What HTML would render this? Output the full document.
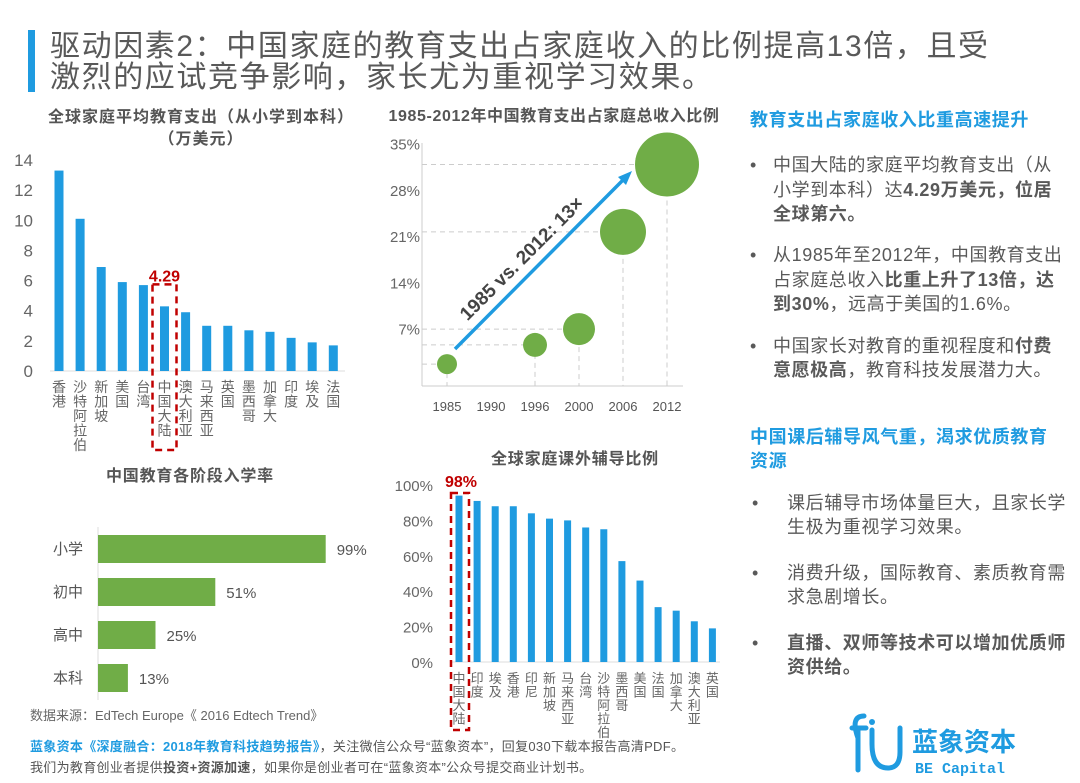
<!DOCTYPE html>
<html><head><meta charset="utf-8">
<style>
body{margin:0;background:#fff;}
svg{display:block;font-family:"Liberation Sans","Noto Sans CJK SC",sans-serif;}
</style></head>
<body>
<svg id="s" width="1080" height="783" viewBox="0 0 1080 783" xmlns="http://www.w3.org/2000/svg">
<rect width="1080" height="783" fill="#fff"/>
<rect x="28" y="30" width="7" height="62" fill="#1f9be0"/>
<text x="50" y="56" font-size="30" letter-spacing="1.6" fill="#595959">驱动因素2：中国家庭的教育支出占家庭收入的比例提高13倍，且受</text>
<text x="50" y="87" font-size="30" letter-spacing="1.6" fill="#595959">激烈的应试竞争影响，家长尤为重视学习效果。</text>

<text x="201" y="122" font-size="16" letter-spacing="1" font-weight="bold" fill="#555" text-anchor="middle">全球家庭平均教育支出（从小学到本科）</text>
<text x="201" y="144" font-size="16" letter-spacing="1" font-weight="bold" fill="#555" text-anchor="middle">（万美元）</text>
<g id="c1"></g>

<text x="554" y="121" font-size="16" letter-spacing="0.6" font-weight="bold" fill="#555" text-anchor="middle">1985-2012年中国教育支出占家庭总收入比例</text>
<g id="c2"></g>

<text x="190" y="481" font-size="16" letter-spacing="0.8" font-weight="bold" fill="#555" text-anchor="middle">中国教育各阶段入学率</text>
<g id="c3"></g>

<text x="575" y="464" font-size="16" letter-spacing="0.8" font-weight="bold" fill="#555" text-anchor="middle">全球家庭课外辅导比例</text>
<g id="c4"></g>

<g font-size="18" letter-spacing="0.6" fill="#595959">
<text x="750" y="126" font-weight="bold" fill="#1f9be0">教育支出占家庭收入比重高速提升</text>
<text x="750" y="171">•</text>
<text x="773" y="171">中国大陆的家庭平均教育支出（从</text>
<text x="773" y="196">小学到本科）达<tspan font-weight="bold">4.29万美元，位居</tspan></text>
<text x="773" y="220" font-weight="bold">全球第六。</text>
<text x="750" y="261">•</text>
<text x="773" y="261">从1985年至2012年，中国教育支出</text>
<text x="773" y="286">占家庭总收入<tspan font-weight="bold">比重上升了13倍，达</tspan></text>
<text x="773" y="310"><tspan font-weight="bold">到30%</tspan>，远高于美国的1.6%。</text>
<text x="750" y="352">•</text>
<text x="773" y="352">中国家长对教育的重视程度和<tspan font-weight="bold">付费</tspan></text>
<text x="773" y="376"><tspan font-weight="bold">意愿极高</tspan>，教育科技发展潜力大。</text>
<text x="750" y="443" font-weight="bold" fill="#1f9be0">中国课后辅导风气重，渴求优质教育</text>
<text x="750" y="467" font-weight="bold" fill="#1f9be0">资源</text>
<text x="752" y="509">•</text>
<text x="787" y="509">课后辅导市场体量巨大，且家长学</text>
<text x="787" y="533">生极为重视学习效果。</text>
<text x="752" y="579">•</text>
<text x="787" y="579">消费升级，国际教育、素质教育需</text>
<text x="787" y="603">求急剧增长。</text>
<text x="752" y="649">•</text>
<text x="787" y="649" font-weight="bold">直播、双师等技术可以增加优质师</text>
<text x="787" y="673" font-weight="bold">资供给。</text>
</g>

<text x="30" y="720" font-size="13" fill="#666">数据来源：EdTech Europe《 2016 Edtech Trend》</text>
<text x="30" y="751" font-size="13" letter-spacing="0.3" fill="#555"><tspan fill="#1f9be0" font-weight="bold">蓝象资本《深度融合：2018年教育科技趋势报告》</tspan>，关注微信公众号“蓝象资本”，回复030下载本报告高清PDF。</text>
<text x="30" y="772" font-size="13" letter-spacing="0.3" fill="#555">我们为教育创业者提供<tspan font-weight="bold">投资+资源加速</tspan>，如果你是创业者可在“蓝象资本”公众号提交商业计划书。</text>
<g>
<path d="M858 738 Q850 716 864 716 M852 728 L866 728 M858 728 L858 770 M872 730 L872 744 Q872 768 888 768 Q900 768 900 752 L900 728" fill="none" stroke="#1f9be0" stroke-width="5" stroke-linecap="round"/>
<circle cx="872" cy="722" r="3" fill="#1f9be0"/>
<text x="912" y="751" font-size="26" font-weight="bold" fill="#1f9be0">蓝象资本</text>
<text x="915" y="773" font-size="15" font-family="Liberation Mono, monospace" font-weight="bold" fill="#1f9be0">BE Capital</text>
</g>
</svg>
<script>
const NS="http://www.w3.org/2000/svg";
function mk(p,t,a){const e=document.createElementNS(NS,t);for(const k in a)e.setAttribute(k,a[k]);p.appendChild(e);return e;}

const spendCats=["香港","沙特阿拉伯","新加坡","美国","台湾","中国大陆","澳大利亚","马来西亚","英国","墨西哥","加拿大","印度","埃及","法国"];
const spendVals=[13.3,10.1,6.9,5.9,5.7,4.29,3.9,3.0,3.0,2.7,2.6,2.2,1.9,1.7];
const spendTicks=[0,2,4,6,8,10,12,14];
const yearCats=["1985","1990","1996","2000","2006","2012"];
const bubbleYears=["1985","1996","2000","2006","2012"];
const bubbleVals=[1.8,4.7,7.1,21.8,32];
const bubbleSizes=[10,12,16,23,32];
const ratioTicks=[7,14,21,28,35];
const stageCats=["小学","初中","高中","本科"];
const stageVals=[99,51,25,13];
const tutorCats=["中国大陆","印度","埃及","香港","印尼","新加坡","马来西亚","台湾","沙特阿拉伯","墨西哥","美国","法国","加拿大","澳大利亚","英国"];
const tutorVals=[94,91,88,88,84,81,80,76,75,57,46,31,29,23,19];
const tutorTicks=[0,20,40,60,80,100];

(function(){
const g=document.getElementById('c1');
const y=v=>371-v*15.07, x=i=>59+i*21.1;
const ax=mk(g,'line',{x1:50,x2:345,y1:371,y2:371,stroke:'#ddd'});


spendTicks.forEach(t=>{const e=mk(g,'text',{x:33,y:y(t)+6,'font-size':17,fill:'#666','text-anchor':'end'});e.textContent=t;

});
spendCats.forEach((c,i)=>{
const b=mk(g,'rect',{x:x(i)-4.5,y:y(spendVals[i]),width:9,height:spendVals[i]*15.07,fill:'#1f9be0'});


[...c].forEach((ch,k)=>{const t=mk(g,'text',{x:x(i),y:392+k*14.5,'font-size':14,fill:'#666','text-anchor':'middle'});t.textContent=ch;

});
});
const hi=5;
const r=mk(g,'rect',{x:x(hi)-12,y:y(spendVals[hi])-22,width:24,height:450-(y(spendVals[hi])-22),fill:'none',stroke:'#c00000','stroke-width':2.5,'stroke-dasharray':'7,5'});


const l=mk(g,'text',{x:x(hi),y:y(spendVals[hi])-25,'font-size':16,'font-weight':'bold',fill:'#c00000','text-anchor':'middle'});l.textContent=spendVals[hi];


})();

(function(){
const g=document.getElementById('c2');
const y=v=>376-v*6.61, x=c=>447+yearCats.indexOf(c)*44;
mk(g,'line',{x1:422,x2:422,y1:143,y2:386,stroke:'#ccc'});
mk(g,'line',{x1:422,x2:683,y1:386,y2:386,stroke:'#ccc'});
ratioTicks.forEach(t=>{const e=mk(g,'text',{x:420,y:y(t)+5,'font-size':15,fill:'#666','text-anchor':'end'});e.textContent=t+'%';

});
yearCats.forEach(c=>{const e=mk(g,'text',{x:x(c),y:411,'font-size':13,fill:'#555','text-anchor':'middle'});e.textContent=c;

});
bubbleYears.forEach((c,i)=>{
const cx=x(c),cy=y(bubbleVals[i]);
mk(g,'line',{x1:422,x2:cx,y1:cy,y2:cy,stroke:'#ccc','stroke-dasharray':'5,4'});
mk(g,'line',{x1:cx,x2:cx,y1:cy,y2:386,stroke:'#ccc','stroke-dasharray':'5,4'});
});
bubbleYears.forEach((c,i)=>{
const b=mk(g,'circle',{cx:x(c),cy:y(bubbleVals[i]),r:bubbleSizes[i],fill:'#70ad47'});


});
const a=mk(g,'line',{x1:455,y1:349,x2:625,y2:178,stroke:'#1f9be0','stroke-width':3.5});


mk(g,'polygon',{points:'632,171 618,177 626,185',fill:'#1f9be0'});
const t=mk(g,'text',{x:0,y:0,'font-size':19,'font-weight':'bold',fill:'#444','text-anchor':'middle',transform:'translate(526,263) rotate(-45)'});t.textContent='1985 vs. 2012: 13×';


})();

(function(){
const g=document.getElementById('c3');
const x=v=>98+v*2.3, yc=i=>549+i*43;
mk(g,'line',{x1:98,x2:98,y1:527,y2:700,stroke:'#ddd'});
stageCats.forEach((c,i)=>{
const b=mk(g,'rect',{x:98,y:yc(i)-14,width:x(stageVals[i])-98,height:28,fill:'#70ad47'});


const l=mk(g,'text',{x:83,y:yc(i)+5,'font-size':15,fill:'#555','text-anchor':'end'});l.textContent=c;


const v=mk(g,'text',{x:x(stageVals[i])+11,y:yc(i)+6,'font-size':15,fill:'#555'});v.textContent=stageVals[i]+'%';


});
})();

(function(){
const g=document.getElementById('c4');
const y=v=>662-v*1.77, x=i=>459+i*18.1;
mk(g,'line',{x1:452,x2:720,y1:662,y2:662,stroke:'#ddd'});
tutorTicks.forEach(t=>{const e=mk(g,'text',{x:433,y:y(t)+6,'font-size':15,fill:'#666','text-anchor':'end'});e.textContent=t+'%';

});
tutorCats.forEach((c,i)=>{
const b=mk(g,'rect',{x:x(i)-3.5,y:y(tutorVals[i]),width:7,height:tutorVals[i]*1.77,fill:'#1f9be0'});


[...c].forEach((ch,k)=>{const t=mk(g,'text',{x:x(i),y:683+k*13.5,'font-size':13,fill:'#666','text-anchor':'middle'});t.textContent=ch;

});
});
const r=mk(g,'rect',{x:451,y:493,width:18,height:237,fill:'none',stroke:'#c00000','stroke-width':2.5,'stroke-dasharray':'7,5'});


const l=mk(g,'text',{x:461,y:487,'font-size':16,'font-weight':'bold',fill:'#c00000','text-anchor':'middle'});l.textContent='98%';


})();
</script>
</body></html>
